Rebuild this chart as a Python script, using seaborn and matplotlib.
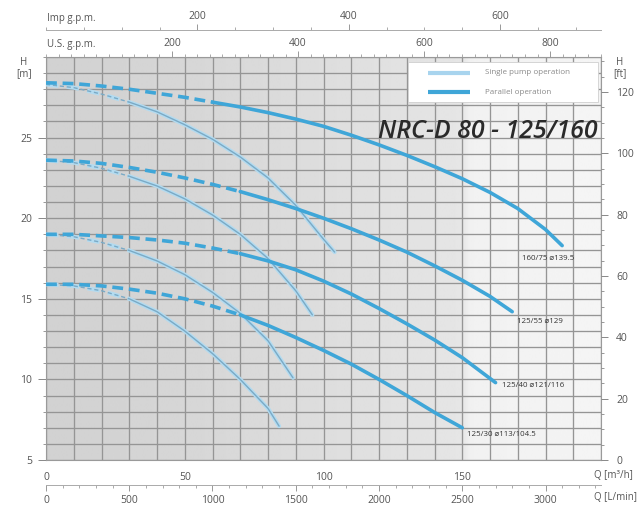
import numpy as np
import pandas as pd
import matplotlib
matplotlib.use("Agg")
import matplotlib.pyplot as plt
from matplotlib.patches import Rectangle
from matplotlib.ticker import MultipleLocator, FixedLocator
import seaborn as sns

# ---------------- data ----------------
curve_names = ["160/75 ⌀139.5", "125/55 ⌀129", "125/40 ⌀121/116", "125/30 ⌀113/104.5"]

# parallel operation curves (Q in m3/h, H in m)
p1_q = [0, 10, 20, 30, 40, 50, 60, 70, 80, 90, 100, 110, 120, 130, 140, 150, 160, 170, 180, 186]
p1_h = [28.4, 28.35, 28.2, 28.0, 27.75, 27.5, 27.2, 26.9, 26.55, 26.15, 25.7, 25.15,
        24.55, 23.9, 23.2, 22.45, 21.6, 20.6, 19.3, 18.3]
p2_q = [0, 10, 20, 30, 40, 50, 60, 70, 80, 90, 100, 110, 120, 130, 140, 150, 160, 168]
p2_h = [23.6, 23.55, 23.4, 23.15, 22.85, 22.5, 22.1, 21.65, 21.15, 20.6, 20.0, 19.35,
        18.65, 17.9, 17.05, 16.15, 15.15, 14.2]
p3_q = [0, 10, 20, 30, 40, 50, 60, 70, 80, 90, 100, 110, 120, 130, 140, 150, 162]
p3_h = [19.0, 19.0, 18.9, 18.8, 18.65, 18.45, 18.15, 17.8, 17.35, 16.8, 16.1, 15.3,
        14.4, 13.45, 12.45, 11.35, 9.8]
p4_q = [0, 10, 20, 30, 40, 50, 60, 70, 80, 90, 100, 110, 120, 130, 140, 150]
p4_h = [15.9, 15.9, 15.8, 15.6, 15.35, 15.0, 14.55, 14.0, 13.35, 12.6, 11.8, 10.95,
        10.0, 9.0, 7.95, 7.0]

# single pump curves
s1_q = [0, 10, 20, 30, 40, 50, 60, 70, 80, 90, 100, 104]
s1_h = [28.3, 28.1, 27.7, 27.2, 26.6, 25.8, 24.9, 23.8, 22.5, 20.8, 18.7, 17.9]
s2_q = [0, 10, 20, 30, 40, 50, 60, 70, 80, 90, 96]
s2_h = [23.6, 23.45, 23.1, 22.6, 22.0, 21.2, 20.2, 19.0, 17.5, 15.5, 14.0]
s3_q = [0, 10, 20, 30, 40, 50, 60, 70, 80, 89]
s3_h = [19.0, 18.85, 18.5, 18.0, 17.35, 16.5, 15.4, 14.1, 12.4, 10.1]
s4_q = [0, 10, 20, 30, 40, 50, 60, 70, 80, 84]
s4_h = [15.9, 15.8, 15.5, 15.0, 14.2, 13.0, 11.6, 10.0, 8.2, 7.1]

# flow where the dashed (low-flow) part ends
par_dash_end = [60, 70, 70, 70]
sgl_dash_end = [30, 30, 30, 30]

bottom_ticks = [0, 50, 100, 150]
lmin_ticks = [0, 500, 1000, 1500, 2000, 2500, 3000]
usgpm_ticks = [200, 400, 600, 800]
impgpm_ticks = [200, 400, 600]
hm_ticks = [5, 10, 15, 20, 25]
hft_ticks = [0, 20, 40, 60, 80, 100, 120]

title = "NRC-D 80 - 125/160"
legend_labels = ["Single pump operation", "Parallel operation"]

# ---------------- build table ----------------
rows = []
for i, (q, h) in enumerate([(p1_q, p1_h), (p2_q, p2_h), (p3_q, p3_h), (p4_q, p4_h)]):
    for a, b in zip(q, h):
        rows.append(dict(curve=curve_names[i], mode="parallel", Q=a, H=b))
for i, (q, h) in enumerate([(s1_q, s1_h), (s2_q, s2_h), (s3_q, s3_h), (s4_q, s4_h)]):
    for a, b in zip(q, h):
        rows.append(dict(curve=curve_names[i], mode="single", Q=a, H=b))
df = pd.DataFrame(rows)

# ---------------- style ----------------
sns.set_style("ticks")
plt.rcParams["font.family"] = ["Open Sans", "DejaVu Sans"]
TXT = "#555555"
GRID = "#959595"
C_PAR = "#3fa6d8"
C_SGL_HALO = "#b3dbf0"
C_SGL_CORE = "#7aaac6"
C_LEG_SGL = "#a8d4ee"

fig = plt.figure(figsize=(6.37, 5.15), dpi=100)
ax = fig.add_axes([46 / 637, 55 / 515, 555 / 637, 403 / 515])
ax.set_xlim(0, 200)
ax.set_ylim(5, 30)

# background shading
xs = np.linspace(0, 200, 400)
shade = np.interp(xs, [0, 60, 120, 150, 153, 200], [0.82, 0.845, 0.88, 0.90, 0.945, 0.96])
ax.imshow(shade[np.newaxis, :], extent=[0, 200, 5, 30], aspect="auto",
          cmap="gray", vmin=0, vmax=1, zorder=-2, interpolation="bilinear")

# grid
ax.xaxis.set_major_locator(FixedLocator(bottom_ticks))
ax.xaxis.set_minor_locator(MultipleLocator(10))
ax.yaxis.set_major_locator(FixedLocator(hm_ticks))
ax.yaxis.set_minor_locator(MultipleLocator(1))
ax.grid(which="both", color=GRID, lw=0.95, zorder=0)
ax.set_axisbelow(True)

# curves
for i, name in enumerate(curve_names):
    d = df[(df.curve == name) & (df["mode"] == "single")]
    dash = d[d.Q <= sgl_dash_end[i]]
    sol = d[d.Q >= sgl_dash_end[i]]
    for part, ls in ((dash, (0, (3, 2))), (sol, "-")):
        sns.lineplot(data=part, x="Q", y="H", ax=ax, color=C_SGL_HALO, lw=3.0,
                     linestyle=ls, sort=False, estimator=None, zorder=3)
        sns.lineplot(data=part, x="Q", y="H", ax=ax, color=C_SGL_CORE, lw=1.0,
                     linestyle=ls, sort=False, estimator=None, zorder=3.1)
for i, name in enumerate(curve_names):
    d = df[(df.curve == name) & (df["mode"] == "parallel")]
    dash = d[d.Q <= par_dash_end[i]]
    sol = d[d.Q >= par_dash_end[i]]
    sns.lineplot(data=dash, x="Q", y="H", ax=ax, color=C_PAR, lw=2.6,
                 linestyle=(0, (3, 1.6)), sort=False, estimator=None, zorder=4)
    sns.lineplot(data=sol, x="Q", y="H", ax=ax, color=C_PAR, lw=2.6,
                 sort=False, estimator=None, zorder=4)

ax.set_xlabel("")
ax.set_ylabel("")

# curve labels
label_pos = [(171.5, 17.5), (169.7, 13.6), (164.3, 9.6), (151.7, 6.6)]
for name, (lx, ly) in zip(curve_names, label_pos):
    ax.text(lx, ly, name, fontsize=5.7, color="#333333", ha="left", va="center",
            family=["Open Sans", "DejaVu Sans"], zorder=5)

# title
ax.text(198.8, 25.35, title, fontsize=18, style="italic", fontweight="semibold",
        color="#2a2a2a", ha="right", va="center", zorder=5)

# legend (drawn as a box with two sample lines)
def px2ax(x, y):
    return ((x - 46) / 555, (460 - y) / 403)

x0, y0 = px2ax(408, 102)
x1, y1 = px2ax(598, 62)
ax.add_patch(Rectangle((x0, y0), x1 - x0, y1 - y0, transform=ax.transAxes,
                       facecolor="white", edgecolor="#cfcfcf", lw=0.6, zorder=6))
for (yy, col, lab) in ((73, C_LEG_SGL, legend_labels[0]), (92, C_PAR, legend_labels[1])):
    a0, b0 = px2ax(428, yy)
    a1, _ = px2ax(470, yy)
    ax.plot([a0, a1], [b0, b0], transform=ax.transAxes, color=col, lw=3, zorder=7,
            solid_capstyle="butt")
    tx, _ = px2ax(485, yy)
    ax.text(tx, b0, lab, transform=ax.transAxes, fontsize=5.8, color="#8a8a8a",
            ha="left", va="center", zorder=7)

# axis appearance
for sp in ax.spines.values():
    sp.set_color("#9a9a9a")
    sp.set_linewidth(0.8)
ax.tick_params(axis="x", which="both", length=0, labelsize=7.5, labelcolor=TXT, pad=9)
ax.tick_params(axis="y", which="major", length=6, width=0.7, color="#888888",
               labelsize=7.5, labelcolor=TXT, pad=4)
ax.tick_params(axis="y", which="minor", length=2.5, width=0.6, color="#888888")
ax.set_xticklabels([str(t) for t in bottom_ticks])

# right axis in feet
ax2 = ax.twinx()
ax2.set_ylim(0, 131.4)
ax2.yaxis.set_major_locator(FixedLocator(hft_ticks))
ax2.yaxis.set_minor_locator(MultipleLocator(5))
ax2.tick_params(axis="y", which="major", length=5, width=0.7, color="#888888",
                labelsize=7.5, labelcolor=TXT, pad=6)
ax2.tick_params(axis="y", which="minor", length=2.5, width=0.6, color="#888888")
ax2.grid(False)
for sp in ax2.spines.values():
    sp.set_visible(False)

# L/min axis below
m3h_to_lmin = 1000.0 / 60.0
sec_l = ax.secondary_xaxis(-25 / 403, functions=(lambda q: q * m3h_to_lmin,
                                                  lambda l: l / m3h_to_lmin))
sec_l.xaxis.set_major_locator(FixedLocator(lmin_ticks))
sec_l.xaxis.set_minor_locator(MultipleLocator(100))
sec_l.tick_params(which="major", length=4, width=0.6, color="#888888",
                  labelsize=7.5, labelcolor=TXT, pad=3)
sec_l.tick_params(which="minor", length=2.5, width=0.5, color="#888888")
for sp in sec_l.spines.values():
    sp.set_color("#aaaaaa")
    sp.set_linewidth(0.7)

# US gpm on top edge
m3h_to_us = 4.402868
sec_us = ax.secondary_xaxis("top", functions=(lambda q: q * m3h_to_us,
                                               lambda g: g / m3h_to_us))
sec_us.xaxis.set_major_locator(FixedLocator(usgpm_ticks))
sec_us.xaxis.set_minor_locator(MultipleLocator(20))
sec_us.tick_params(which="major", length=4, width=0.6, color="#888888",
                   labelsize=7.5, labelcolor=TXT, pad=1.5)
sec_us.tick_params(which="minor", length=2.5, width=0.5, color="#888888")
for sp in sec_us.spines.values():
    sp.set_visible(False)

# Imp gpm line above
m3h_to_imp = 3.666154
sec_imp = ax.secondary_xaxis(1 + 27 / 403, functions=(lambda q: q * m3h_to_imp,
                                                       lambda g: g / m3h_to_imp))
sec_imp.xaxis.set_major_locator(FixedLocator(impgpm_ticks))
sec_imp.xaxis.set_minor_locator(MultipleLocator(50))
sec_imp.tick_params(which="major", length=4, width=0.6, color="#888888",
                    labelsize=7.5, labelcolor=TXT, pad=1.5)
sec_imp.tick_params(which="minor", length=2.5, width=0.5, color="#888888")
for sp in sec_imp.spines.values():
    sp.set_color("#aaaaaa")
    sp.set_linewidth(0.7)

# unit labels
def ftxt(x, y, s, **kw):
    fig.text(x / 637, 1 - y / 515, s, fontsize=7, color=TXT, va="center", **kw)

ftxt(47, 18, "Imp g.p.m.", ha="left")
ftxt(47, 44, "U.S. g.p.m.", ha="left")
ftxt(594, 475, "Q [m³/h]", ha="left")
ftxt(594, 497, "Q [L/min]", ha="left")
ftxt(24, 68, "H\n[m]", ha="center", linespacing=1.1)
ftxt(620, 68, "H\n[ft]", ha="center", linespacing=1.1)

fig.savefig("out.png", dpi=100)
